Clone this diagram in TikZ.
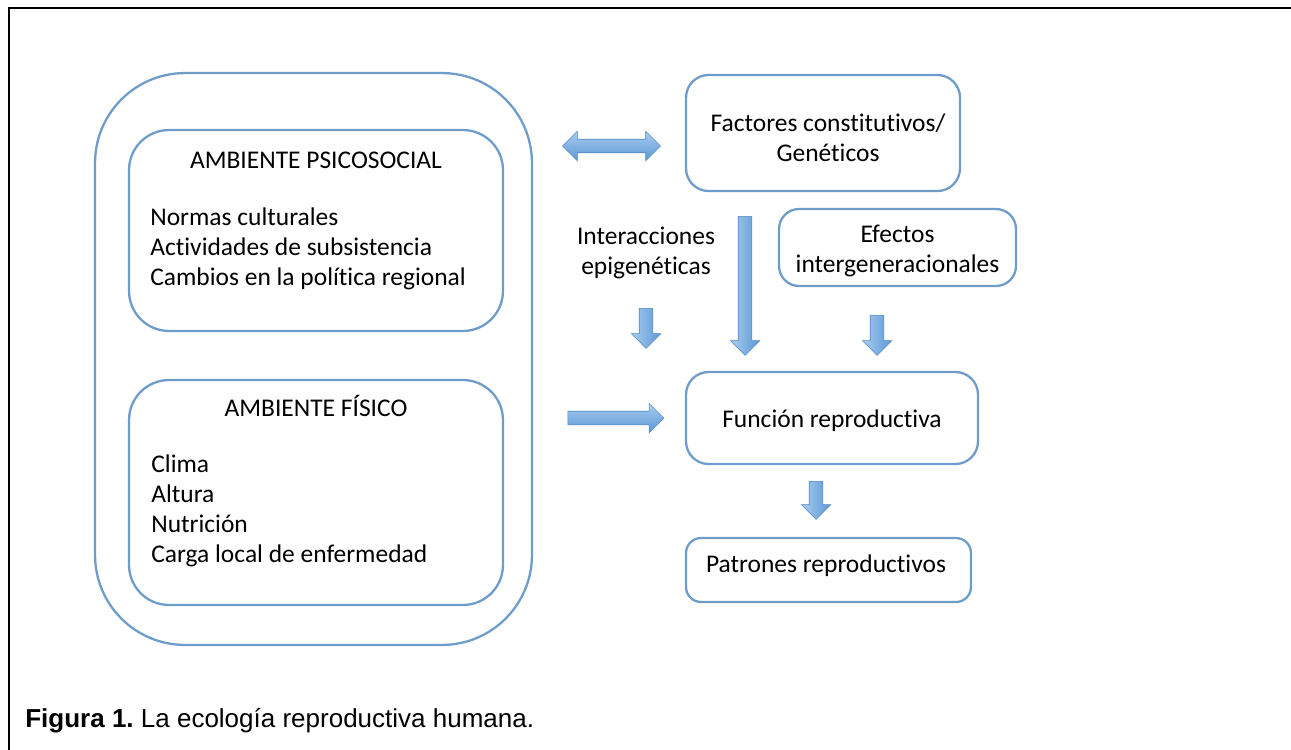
\documentclass[tikz,border=0pt]{standalone}
\usepackage{fontspec}
\setmainfont{Carlito}[Ligatures=NoCommon]
\newfontfamily\captionfont{Liberation Sans}
\usetikzlibrary{shapes.arrows, positioning}
\definecolor{boxblue}{HTML}{6E9CCB}
\definecolor{arrowlight}{HTML}{A9CCF0}
\definecolor{arrowdark}{HTML}{5B98D6}
\frenchspacing
\tikzset{%
  box/.style={draw=boxblue, line width=1.3pt, rounded corners=0.45cm, inner sep=0pt},
  txt/.style={font=\fontsize{14.5}{17}\selectfont, align=center, inner sep=0pt},
  list/.style={font=\fontsize{14.5}{17}\selectfont, align=left, inner sep=0pt, anchor=west},
  blockarrow/.style={
    single arrow,
    draw=arrowdark!90!black,
    line width=0.3pt,
    inner sep=0.13cm,
    single arrow head extend=0.16cm,
    top color=arrowlight, bottom color=arrowdark
  },
  downarrow/.style={blockarrow, shape border rotate=270,
    left color=arrowlight, right color=arrowdark},
  dblarrow/.style={blockarrow, double arrow,
    double arrow head extend=0.16cm}
}
\begin{document}
\begin{tikzpicture}[x=0.02cm, y=-0.02cm]
  \useasboundingbox (0,0) rectangle (1291,750);

  % frame
  \draw[line width=1.7pt] (9,750) -- (9,8) -- (1291,8);

  % environment
  \node[box, rounded corners=1.8cm, minimum width=8.74cm, minimum height=11.44cm] (env) at (313.5,359) {};
  \node[box, rounded corners=0.8cm, minimum width=7.48cm, minimum height=4.02cm] (psico) at (316,230.5) {};
  \node[box, rounded corners=0.8cm, minimum width=7.48cm, minimum height=4.5cm] (fisico) at (316,492.5) {};

  \node[txt] (psicotitle) at (316,160) {AMBIENTE PSICOSOCIAL};
  \node[list] (psicolist) at (150,249) {Normas culturales\\Actividades de subsistencia\\Cambios en la política regional};
  \node[txt] (fisicotitle) at (316,406) {AMBIENTE FÍSICO};
  \node[list] (fisicolist) at (151,511) {Clima\\Altura\\Nutrición\\Carga local de enfermedad};

  % right side
  \node[box, minimum width=5.48cm, minimum height=2.32cm] (factores) at (823,133) {};
  \node[txt] (factorestext) at (828,138) {Factores constitutivos/\\Genéticos};
  \node[box, rounded corners=0.4cm, minimum width=4.74cm, minimum height=1.54cm] (efectos) at (897.5,247.5) {};
  \node[txt] (efectostext) at (897.5,251) {Efectos\\intergeneracionales};
  \node[txt] (epi) at (646,253) {Interacciones\\epigenéticas};
  \node[box, minimum width=5.84cm, minimum height=1.84cm] (funcion) at (832,418) {};
  \node[txt] (funciontext) at (832,421) {Función reproductiva};
  \node[box, rounded corners=0.3cm, minimum width=5.7cm, minimum height=1.28cm] (patrones) at (828.5,570) {};
  \node[txt] (patronestext) at (826,566) {Patrones reproductivos};

  % block arrows
  \node[dblarrow, minimum height=1.96cm] (envgen) at (611.5,146) {};
  \node[blockarrow, minimum height=1.92cm] (envfun) at (612.5,418) {};
  \node[downarrow, minimum height=2.78cm] (genfun) at (745,282.5) {};
  \node[downarrow, minimum height=0.8cm] (epifun) at (646,325) {};
  \node[downarrow, minimum height=0.8cm] (efefun) at (877,332) {};
  \node[downarrow, minimum height=0.76cm] (funpat) at (816,497) {};

  % caption
  \node[anchor=west, inner sep=0pt, font=\captionfont\fontsize{14.8}{17}\selectfont] (caption) at (25,721) {\textbf{Figura 1.} La ecología reproductiva humana.};
\end{tikzpicture}
\end{document}
